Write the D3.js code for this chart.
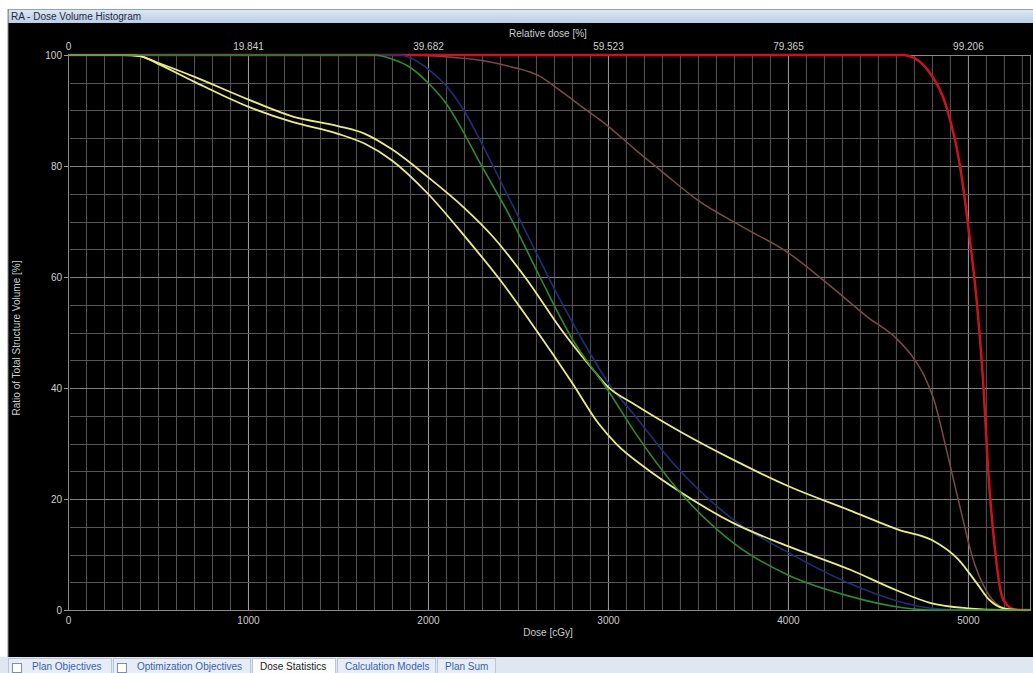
<!DOCTYPE html>
<html lang="en">
<head>
<meta charset="utf-8">
<title>RA - Dose Volume Histogram</title>
<script src="https://cdn.jsdelivr.net/npm/d3@7"></script>
<style>
  html, body { margin: 0; padding: 0; background: #fff; overflow: hidden; }
  svg { display: block; font-family: "Liberation Sans", Arial, sans-serif; }
  .tick text { fill: #cfcfcf; font-size: 10px; }
</style>
</head>
<body>
<div id="chart"></div>
<script>
// dose [cGy], volume [%] pairs
var curveRed = [[0,100],[4640,100],[4700,99.5],[4790,96.7],[4880,90.7],[4956,80],[5011,66.7],[5048,56],[5067,49],[5085,41],[5111,26],[5150,11],[5194,2],[5250,0.2],[5300,0],[5345,0]];
var curveBrown = [[0,100],[1900,100],[2100,99.7],[2300,99],[2460,97.9],[2620,96.2],[2730,93.7],[2850,90.8],[3000,87.2],[3150,83],[3300,79],[3500,73.8],[3750,69],[4000,64.4],[4250,58],[4450,52.6],[4600,49],[4700,45.3],[4760,42],[4810,38],[4880,29],[4960,18],[5030,9],[5100,3.6],[5180,0.6],[5230,0],[5345,0]];
var curveBlue = [[0,100],[1850,100],[1900,99.5],[2000,97.5],[2100,94.5],[2200,90],[2300,84],[2400,77.5],[2500,71],[2600,64.5],[2700,58],[2800,52],[2900,46.3],[3000,41],[3140,35.4],[3380,25.8],[3700,16.2],[4010,10.2],[4340,4.8],[4620,1.5],[4800,0.3],[4950,0],[5345,0]];
var curveYellowUpper = [[0,100],[350,100],[400,99.8],[500,98.6],[700,96.1],[1000,92],[1250,88.9],[1500,87.2],[1650,85.8],[1800,83],[2000,78],[2200,72.5],[2360,67.3],[2550,59.5],[2730,51],[2920,43.2],[3000,40.2],[3140,37.2],[3420,31.8],[3700,27],[4010,22.2],[4340,18],[4620,14.4],[4800,12.6],[4950,9],[5050,4.8],[5120,1.8],[5200,0.3],[5300,0],[5345,0]];
var curveYellowLower = [[0,100],[300,100],[400,99.8],[500,98.4],[700,95.2],[1000,90.7],[1250,87.9],[1500,85.8],[1650,84],[1800,81],[2000,75],[2200,67.5],[2400,59.5],[2600,50.5],[2800,41],[2950,33.5],[3050,29.8],[3200,25.8],[3400,21.3],[3700,15.6],[4000,11.5],[4350,7.2],[4600,3.6],[4800,1.2],[5000,0.3],[5200,0],[5345,0]];
var curveGreen = [[0,100],[1700,100],[1800,99.3],[1900,97.8],[2000,95],[2100,91.3],[2180,87.1],[2290,80.5],[2456,70.9],[2622,60],[2806,48.6],[3000,39.6],[3150,32],[3380,22],[3700,12],[4000,6.3],[4340,2.5],[4620,0.5],[4800,0],[5345,0]];

var doseTicks = [0, 1000, 2000, 3000, 4000, 5000];
var volTicks = [0, 20, 40, 60, 80, 100];
var prescribedDose = 5040;
var tabLabels = ["Plan Objectives", "Optimization Objectives", "Dose Statistics", "Calculation Models", "Plan Sum"];

var w = 1033, h = 673;
var plot = {left: 68, right: 1030, top: 55, bottom: 610};

var svg = d3.select("#chart").append("svg")
  .attr("width", w)
  .attr("height", h);

// window frame + title bar
svg.append("rect").attr("x", 0).attr("y", 0).attr("width", w).attr("height", h).attr("fill", "#fff");
var grad = svg.append("defs").append("linearGradient").attr("id", "tbar").attr("x1", 0).attr("y1", 0).attr("x2", 0).attr("y2", 1);
grad.append("stop").attr("offset", "0%").attr("stop-color", "#dbe7f4");
grad.append("stop").attr("offset", "100%").attr("stop-color", "#b9cde3");
svg.append("rect").attr("x", 8.5).attr("y", 9.5).attr("width", w - 8).attr("height", 14)
  .attr("fill", "url(#tbar)").attr("stroke", "#8ea3bb");
svg.append("text").attr("x", 11).attr("y", 20)
  .attr("font-size", 10).attr("fill", "#1e2a44")
  .text("RA - Dose Volume Histogram");
svg.append("rect").attr("x", 8).attr("y", 23).attr("width", w - 8).attr("height", 634).attr("fill", "#000");
svg.append("line").attr("x1", 8).attr("x2", 8).attr("y1", 9).attr("y2", 657).attr("stroke", "#888");

// scales
var x = d3.scaleLinear().domain([0, 5345]).range([plot.left, plot.right]);
var y = d3.scaleLinear().domain([0, 100]).range([plot.bottom, plot.top]);
var xRel = d3.scaleLinear().domain([0, 5345 / prescribedDose * 100]).range([plot.left, plot.right]);

// grid
var g = svg.append("g");
g.selectAll("line.vminor").data(d3.range(100, 5345, 100)).enter().append("line")
  .attr("x1", function(d) { return x(d) + 0.5; }).attr("x2", function(d) { return x(d) + 0.5; })
  .attr("y1", plot.top).attr("y2", plot.bottom)
  .attr("stroke", function(d) { return d % 1000 == 0 ? "#a0a0a0" : "#565656"; })
  .attr("stroke-width", 1);
g.selectAll("line.hminor").data(d3.range(5, 100, 5)).enter().append("line")
  .attr("x1", plot.left + 2).attr("x2", plot.right)
  .attr("y1", function(d) { return Math.round(y(d)) + 0.5; }).attr("y2", function(d) { return Math.round(y(d)) + 0.5; })
  .attr("stroke", function(d) { return d % 20 == 0 ? "#808080" : "#565656"; })
  .attr("stroke-width", 1);
// frame
g.append("rect").attr("x", plot.left + 0.5).attr("y", plot.top + 0.5)
  .attr("width", plot.right - plot.left).attr("height", plot.bottom - plot.top)
  .attr("fill", "none").attr("stroke", "#8a8a8a");

// axes
var axisBottom = d3.axisBottom(x).tickValues(doseTicks).tickSize(0).tickPadding(7).tickFormat(d3.format("d"));
var axisTop = d3.axisTop(xRel).tickValues(doseTicks.map(function(d) { return d / prescribedDose * 100; }))
  .tickSize(0).tickPadding(5)
  .tickFormat(function(d) { return d == 0 ? "0" : (Math.floor(d * 1000) / 1000).toFixed(3); });
var axisLeft = d3.axisLeft(y).tickValues(volTicks).tickSize(4).tickPadding(2);

svg.append("g").attr("transform", "translate(0," + plot.bottom + ")").call(axisBottom)
  .call(function(s) { s.select(".domain").remove(); });
svg.append("g").attr("transform", "translate(0," + plot.top + ")").call(axisTop)
  .call(function(s) { s.select(".domain").remove(); });
svg.append("g").attr("transform", "translate(" + plot.left + ",0)").call(axisLeft)
  .call(function(s) {
    s.select(".domain").remove();
    s.selectAll(".tick line").attr("stroke", "#9a9a9a");
  });

svg.append("text").attr("x", 548).attr("y", 636).attr("text-anchor", "middle")
  .attr("font-size", 10).attr("fill", "#cfcfcf").text("Dose [cGy]");
svg.append("text").attr("x", 548).attr("y", 37).attr("text-anchor", "middle")
  .attr("font-size", 10).attr("fill", "#cfcfcf").text("Relative dose [%]");
svg.append("text").attr("transform", "translate(20,338) rotate(-90)").attr("text-anchor", "middle")
  .attr("font-size", 10).attr("fill", "#cfcfcf").text("Ratio of Total Structure Volume [%]");

// curves
var line = d3.line()
  .x(function(d) { return x(d[0]); })
  .y(function(d) { return y(d[1]); })
  .curve(d3.curveMonotoneX);

var curves = [
  {data: curveBrown, color: "#7b4b4b", width: 1.5},
  {data: curveRed, color: "#c8141e", width: 2.5},
  {data: curveBlue, color: "#1f2f78", width: 1.6},
  {data: curveYellowUpper, color: "#ecec86", width: 1.8},
  {data: curveYellowLower, color: "#ecec86", width: 1.8},
  {data: curveGreen, color: "#2f8a2f", width: 1.6}
];

var cg = svg.append("g");
cg.selectAll("path").data(curves).enter().append("path")
  .attr("d", function(d) { return line(d.data); })
  .attr("fill", "none")
  .attr("stroke", function(d) { return d.color; })
  .attr("stroke-width", function(d) { return d.width; });

// tab strip
svg.append("rect").attr("x", 0).attr("y", 657).attr("width", w).attr("height", 16).attr("fill", "#dfe7f1");
var tabX = [8, 113, 252, 337, 437, 497];
var tabs = svg.append("g");
tabLabels.forEach(function(t, i) {
  var x0 = tabX[i], x1 = tabX[i + 1];
  var selected = t == "Dose Statistics";
  tabs.append("rect").attr("x", x0 + 0.5).attr("y", 658.5).attr("width", x1 - x0 - 2).attr("height", 16)
    .attr("fill", selected ? "#fbfcfe" : "#e6edf6").attr("stroke", "#b8c6d8");
  var tx = x0 + 8;
  if (i < 2) {
    tabs.append("rect").attr("x", x0 + 4.5).attr("y", 663.5).attr("width", 9).attr("height", 9)
      .attr("fill", "#fff").attr("stroke", "#7d8fa6");
    tx = x0 + 24;
  }
  tabs.append("text").attr("x", tx).attr("y", 670)
    .attr("font-size", 10).attr("fill", selected ? "#1a1a1a" : "#3a5fa8").text(t);
});
</script>
</body>
</html>
